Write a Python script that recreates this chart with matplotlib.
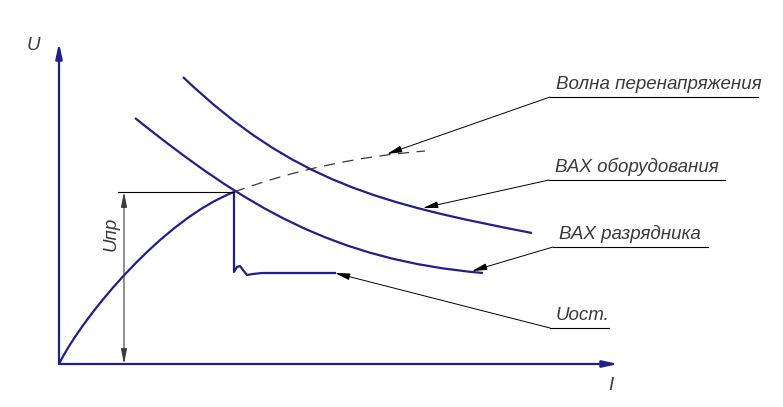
import matplotlib
matplotlib.use("Agg")
import matplotlib.pyplot as plt
from matplotlib.path import Path
from matplotlib.patches import PathPatch

# координаты в условных единицах (I вправо, U вверх), начало — точка пересечения осей
# плавные кривые заданы опорными точками кубических/квадратичных кривых Безье
RISE_I = [0, 25, 105, 175]
RISE_U = [0, 50, 145, 172]

WAVE_I = [175, 265, 366]
WAVE_U = [172, 205, 213]

EQUIP_I = [124, 234, 323, 473]
EQUIP_U = [287, 182, 160, 131]

ARR_I = [76, 186, 274, 424]
ARR_U = [246, 158, 104, 91]

RESID_I = [175, 175, 178, 181, 184, 188, 194, 203, 276]
RESID_U = [172, 92, 97, 98, 94, 89, 90, 91, 91]

U_AXIS_TOP = 321
I_AXIS_END = 559
U_PR = 172
U_PR_X = 65

LABELS = ["Волна перенапряжения", "ВАХ оборудования", "ВАХ разрядника", "Uост."]
SHELF_X0 = [491, 490, 494, 491]
SHELF_X1 = [699, 666, 649, 550]
SHELF_U = [267, 184, 117, 36]
TIP_I = [328, 364, 413, 276]
TIP_U = [210, 156, 93, 91]

BLUE = "#20208a"
INK = "#3a3a3a"
FONT = ["Liberation Sans", "DejaVu Sans"]
FS = 13.5


def bezier(ax, xs, ys, **kw):
    code = Path.CURVE4 if len(xs) == 4 else Path.CURVE3
    codes = [Path.MOVETO] + [code] * (len(xs) - 1)
    ax.add_patch(PathPatch(Path(list(zip(xs, ys)), codes), fill=False, **kw))


fig = plt.figure(figsize=(7.83, 4.07), dpi=100)
ax = fig.add_axes([0, 0, 1, 1])
ax.set_xlim(-59, 724)
ax.set_ylim(-43, 364)
ax.axis("off")

# оси
ax.annotate("", xy=(0, U_AXIS_TOP), xytext=(0, 0),
            arrowprops=dict(arrowstyle="-|>,head_length=0.9,head_width=0.2",
                            color=BLUE, lw=1.6, shrinkA=0, shrinkB=0))
ax.annotate("", xy=(I_AXIS_END, 0), xytext=(0, 0),
            arrowprops=dict(arrowstyle="-|>,head_length=0.9,head_width=0.2",
                            color=BLUE, lw=1.6, shrinkA=0, shrinkB=0))
ax.text(-26, 319, "U", fontsize=FS, style="italic", color=INK, family=FONT,
        ha="center", va="center")
ax.text(552, -21, "I", fontsize=FS, style="italic", color=INK, family=FONT,
        ha="center", va="center")

# кривые
bezier(ax, RISE_I, RISE_U, edgecolor=BLUE, lw=1.6)
bezier(ax, EQUIP_I, EQUIP_U, edgecolor=BLUE, lw=1.6)
bezier(ax, ARR_I, ARR_U, edgecolor=BLUE, lw=1.6)
bezier(ax, WAVE_I, WAVE_U, edgecolor=INK, lw=0.9, linestyle=(0, (9, 6)))
ax.plot(RESID_I, RESID_U, color=BLUE, lw=1.6, solid_joinstyle="round")

# размер Uпр
ax.plot([U_PR_X - 6, RISE_I[-1]], [U_PR, U_PR], color="black", lw=0.8)
ax.annotate("", xy=(U_PR_X, U_PR), xytext=(U_PR_X, 0),
            arrowprops=dict(arrowstyle="<|-|>,head_length=0.9,head_width=0.18",
                            color=INK, lw=0.8, shrinkA=0, shrinkB=0))
ax.text(U_PR_X - 13, 130, "Uпр", rotation=90, fontsize=FS, style="italic",
        color=INK, family=FONT, ha="center", va="center")

# выноски
for lab, x0, x1, u, ti, tu in zip(LABELS, SHELF_X0, SHELF_X1, SHELF_U, TIP_I, TIP_U):
    ax.plot([x0, x1], [u, u], color="black", lw=0.8)
    ax.annotate("", xy=(ti, tu), xytext=(x0, u),
                arrowprops=dict(arrowstyle="-|>,head_length=0.9,head_width=0.2",
                                color="black", lw=0.7, shrinkA=0, shrinkB=0))
    ax.text(x0 + 6, u + 4, lab, fontsize=FS, style="italic", color=INK,
            family=FONT, ha="left", va="bottom")

fig.savefig("out.png", dpi=100, facecolor="white")
